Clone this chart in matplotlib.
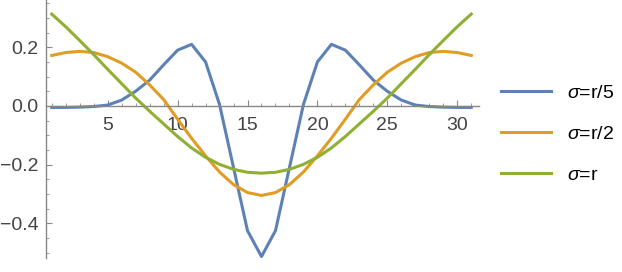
import matplotlib
matplotlib.use('Agg')
import matplotlib.pyplot as plt
from matplotlib.ticker import MultipleLocator, FuncFormatter

plt.rcParams['font.family'] = ['Liberation Sans', 'DejaVu Sans']
plt.rcParams['mathtext.fontset'] = 'custom'
plt.rcParams['mathtext.it'] = 'Liberation Sans:italic'
plt.rcParams['mathtext.rm'] = 'Liberation Sans'

# kernel values, positions 1..31
x = list(range(1, 32))
half_r5 = [-0.005, -0.005, -0.004, -0.002, 0.003, 0.02, 0.05, 0.088, 0.14, 0.19,
           0.21, 0.15, 0.005, -0.21, -0.425, -0.513]
half_r2 = [0.172, 0.182, 0.186, 0.182, 0.168, 0.146, 0.115, 0.072, 0.022, -0.045,
           -0.11, -0.17, -0.225, -0.268, -0.295, -0.305]
half_r1 = [0.313, 0.27, 0.223, 0.175, 0.125, 0.076, 0.027, -0.018, -0.061, -0.104,
           -0.143, -0.175, -0.199, -0.216, -0.226, -0.229]
sigma_r5 = half_r5 + half_r5[-2::-1]
sigma_r2 = half_r2 + half_r2[-2::-1]
sigma_r1 = half_r1 + half_r1[-2::-1]
labels = [r'$\sigma$=r/5', r'$\sigma$=r/2', r'$\sigma$=r']
colors = ['#5e81b5', '#e19c24', '#8fb032']

fig = plt.figure(figsize=(6.22, 2.72), dpi=100)
ax = fig.add_axes([0.0735, 0.0515, 0.6965, 0.9485])

for ys, lab, c in zip([sigma_r5, sigma_r2, sigma_r1], labels, colors):
    ax.plot(x, ys, color=c, lw=2.2, label=lab)

ax.set_xlim(0.57, 31.55)
ax.set_ylim(-0.518, 0.361)

ax.spines['top'].set_visible(False)
ax.spines['right'].set_visible(False)
ax.spines['bottom'].set_position(('data', 0))
for s in ('left', 'bottom'):
    ax.spines[s].set_color('#888888')
    ax.spines[s].set_linewidth(1.0)

ax.set_xticks([5, 10, 15, 20, 25, 30])
ax.xaxis.set_minor_locator(MultipleLocator(1))
ax.yaxis.set_major_locator(MultipleLocator(0.2))
ax.yaxis.set_minor_locator(MultipleLocator(0.05))
ax.yaxis.set_major_formatter(FuncFormatter(lambda v, p: f'{v:.1f}'.replace('-', '\u2212')))
ax.tick_params(which='both', direction='in', color='#888888', labelcolor='#444444',
               labelsize=14)
ax.tick_params(which='major', length=4, width=0.8)
ax.tick_params(which='minor', length=2.5, width=0.6)
ax.tick_params(axis='x', pad=8)
ax.tick_params(axis='y', pad=5)

leg = ax.legend(loc='upper left', bbox_to_anchor=(1.01, 0.74), frameon=False,
                fontsize=14, handlelength=2.6, handletextpad=0.8, labelspacing=1.2)

fig.savefig('out.png', dpi=100)
